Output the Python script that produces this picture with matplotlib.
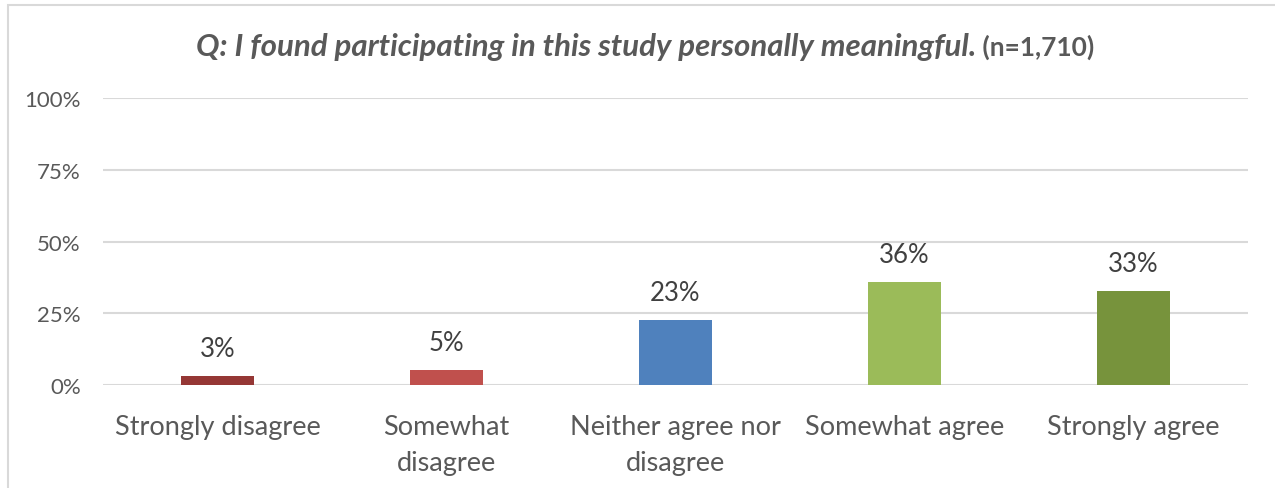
import matplotlib
matplotlib.use('Agg')
import matplotlib.pyplot as plt
from matplotlib.patches import Rectangle
from matplotlib.ticker import PercentFormatter

# Survey answers, share of respondents (%)
categories = ['Strongly disagree', 'Somewhat\ndisagree', 'Neither agree nor\ndisagree',
              'Somewhat agree', 'Strongly agree']
shares = [3.1, 5.2, 22.6, 35.9, 32.8]
bar_colors = ['#953735', '#C0504D', '#4F81BD', '#9BBB59', '#77933C']
y_ticks = [0, 25, 50, 75, 100]

title_main = 'Q: I found participating in this study personally meaningful.'
title_n = ' (n=1,710)'

plt.rcParams['font.family'] = ['Lato', 'DejaVu Sans']
grey = '#595959'
grid_col = '#D9D9D9'

fig = plt.figure(figsize=(12.75, 4.89), dpi=100)
ax = fig.add_axes([0.0808, 0.2106, 0.8980, 0.5869])

x = range(len(categories))
ax.bar(x, shares, width=0.32, color=bar_colors, zorder=3)

# data labels above each bar
for xi, v in zip(x, shares):
    ax.annotate(f'{round(v)}%', (xi, v), xytext=(0, 20), textcoords='offset points',
                ha='center', va='center', fontsize=18.5, color='#404040')

ax.set_xlim(-0.5, len(categories) - 0.5)
ax.set_ylim(0, 100)
ax.set_yticks(y_ticks)
ax.yaxis.set_major_formatter(PercentFormatter(decimals=0))
ax.set_xticks(list(x))
ax.set_xticklabels(categories, fontsize=19.5, color=grey, linespacing=1.55)
ax.tick_params(axis='x', length=0, pad=21)
ax.tick_params(axis='y', length=0, pad=16, labelsize=16, labelcolor=grey)
ax.grid(axis='y', color=grid_col, linewidth=1.5, zorder=0)
for s in ax.spines.values():
    s.set_visible(False)

# chart border (only top and left edges are in frame)
fig.patches.append(Rectangle((8 / 1275, -0.1), 1.2, 1 - 6 / 489 + 0.1,
                             transform=fig.transFigure, fill=False,
                             edgecolor=grid_col, linewidth=1.5))

# title: italic question plus bold sample size
t1 = fig.text(0, 1 - 47 / 489, title_main, fontsize=22.5, fontweight='bold', fontstyle='italic',
              color=grey, va='center')
t2 = fig.text(0, 1 - 47 / 489, title_n, fontsize=19, fontweight='bold', color=grey, va='center')
fig.canvas.draw()
r = fig.canvas.get_renderer()
w1 = t1.get_window_extent(r).width
w2 = t2.get_window_extent(r).width
x0 = 645 - (w1 + w2) / 2
t1.set_x(x0 / 1275)
t2.set_x((x0 + w1) / 1275)

fig.savefig('out.png', dpi=100)
